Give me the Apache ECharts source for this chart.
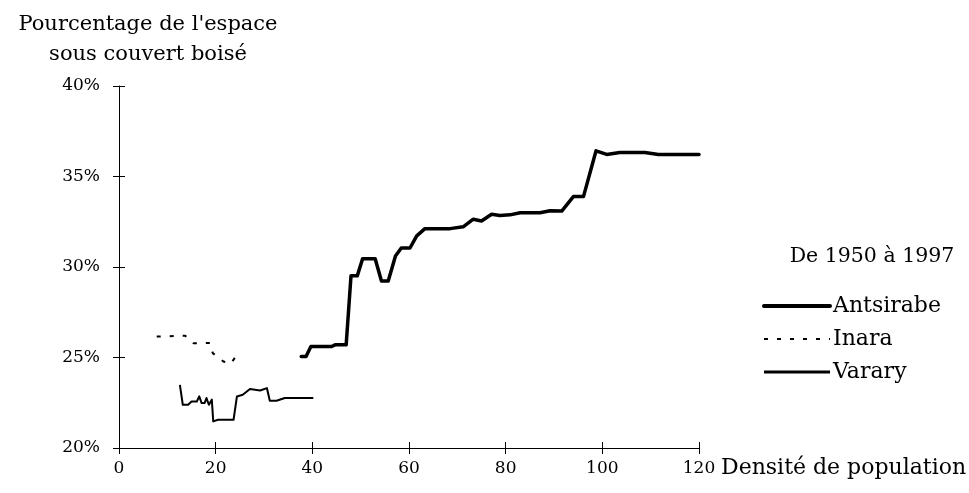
<!DOCTYPE html>
<html><head><meta charset="utf-8">
<script src="https://cdn.jsdelivr.net/npm/echarts@6/dist/echarts.min.js"></script>
<style>html,body{margin:0;padding:0;background:#fff}#c{width:969px;height:493px}</style>
</head><body><div id="c"></div>
<script>
const xTicks = [0, 20, 40, 60, 80, 100, 120];
const yTickLabels = ['20%', '25%', '30%', '35%', '40%'];

const antsirabeX = [37.7, 38.7, 39.7, 44.0, 44.7, 47.0, 48.0, 49.3, 50.4, 53.0, 54.3, 55.7, 57.2, 58.4, 60.2, 61.6, 63.3, 68.5, 71.2, 73.3, 75.0, 77.1, 78.8, 80.9, 83.0, 87.1, 89.2, 91.6, 94.0, 96.1, 98.7, 100.9, 103.6, 108.8, 111.6, 120];
const antsirabeY = [25.06, 25.06, 25.61, 25.61, 25.70, 25.70, 29.51, 29.51, 30.46, 30.46, 29.23, 29.23, 30.61, 31.05, 31.05, 31.72, 32.12, 32.12, 32.22, 32.64, 32.54, 32.91, 32.85, 32.88, 33.0, 33.0, 33.11, 33.09, 33.89, 33.89, 36.42, 36.22, 36.33, 36.33, 36.22, 36.22];

const inaraX = [7.8, 13.7, 15.4, 17.4, 18.8, 19.4, 21.6, 23.1, 24.4, 25.0];
const inaraY = [26.16, 26.2, 25.79, 25.8, 25.8, 25.24, 24.78, 24.65, 25.15, 25.15];

const vararyX = [12.6, 13.2, 14.3, 15.0, 16.1, 16.6, 17.1, 17.7, 18.1, 18.6, 19.2, 19.5, 20.5, 21.6, 23.7, 24.4, 25.6, 27.1, 29.2, 30.6, 31.2, 32.6, 34.3, 40.2];
const vararyY = [23.49, 22.39, 22.39, 22.57, 22.57, 22.85, 22.48, 22.48, 22.76, 22.39, 22.67, 21.47, 21.56, 21.56, 21.56, 22.85, 22.94, 23.26, 23.18, 23.31, 22.61, 22.61, 22.76, 22.76];

const FONT = 'DejaVu Serif';
const zip = (xs, ys) => xs.map((x, i) => [x, ys[i]]);

const chart = echarts.init(document.getElementById('c'), null, {renderer: 'canvas'});
const axisLineStyle = {color: '#000', width: 1};
const hidden = {opacity: 0};

chart.setOption({
  animation: false,
  backgroundColor: '#fff',
  textStyle: {fontFamily: FONT, color: '#000'},
  title: [
    {text: "Pourcentage de l'espace\nsous couvert boisé", left: 143, top: 5, textAlign: 'center',
     textStyle: {fontFamily: FONT, fontSize: 21, fontWeight: 'normal', color: '#000', lineHeight: 30}},
    {text: 'De 1950 à 1997', left: 867, top: 241, textAlign: 'center',
     textStyle: {fontFamily: FONT, fontSize: 20.5, fontWeight: 'normal', color: '#000'}},
    {text: 'Densité de population', left: 716, top: 452,
     textStyle: {fontFamily: FONT, fontSize: 22, fontWeight: 'normal', color: '#000'}}
  ],
  legend: {
    orient: 'vertical', left: 757, top: 290, itemWidth: 66, itemHeight: 14, itemGap: 11,
    itemStyle: hidden,
    textStyle: {fontFamily: FONT, fontSize: 22, color: '#000', padding: [0, 0, 0, -2]},
    data: [
      {name: 'Antsirabe', itemStyle: hidden, lineStyle: {width: 4, color: '#000'}},
      {name: 'Inara', itemStyle: hidden, lineStyle: {width: 2, color: '#000', type: [4, 9]}},
      {name: 'Varary', itemStyle: hidden, lineStyle: {width: 3, color: '#000'}}
    ]
  },
  grid: {left: 119, right: 270, top: 86, bottom: 45},
  xAxis: [
    {type: 'value', min: 0, max: 120, interval: 20, position: 'bottom',
     axisLine: {show: true, lineStyle: axisLineStyle},
     axisTick: {show: true, length: 6, inside: false, lineStyle: axisLineStyle},
     axisLabel: {margin: 12, fontFamily: FONT, fontSize: 17, color: '#000',
       formatter: v => xTicks.includes(v) ? String(v) : ''},
     splitLine: {show: false}},
    {type: 'value', min: 0, max: 120, interval: 20, position: 'bottom', offset: 0,
     axisLine: {show: false},
     axisTick: {show: true, length: 6, inside: true, lineStyle: axisLineStyle},
     axisLabel: {show: false}, splitLine: {show: false}}
  ],
  yAxis: [
    {type: 'value', min: 20, max: 40, interval: 5, position: 'left',
     axisLine: {show: true, lineStyle: axisLineStyle},
     axisTick: {show: true, length: 6, inside: false, lineStyle: axisLineStyle},
     axisLabel: {margin: 19, fontFamily: FONT, fontSize: 17, color: '#000',
       formatter: v => yTickLabels[Math.round((v - 20) / 5)] || ''},
     splitLine: {show: false}},
    {type: 'value', min: 20, max: 40, interval: 5, position: 'left', offset: 0,
     axisLine: {show: false},
     axisTick: {show: true, length: 6, inside: true, lineStyle: axisLineStyle},
     axisLabel: {show: false}, splitLine: {show: false}}
  ],
  series: [
    {name: 'Antsirabe', type: 'line', data: zip(antsirabeX, antsirabeY), showSymbol: false, symbol: 'none',
     lineStyle: {color: '#000', width: 3.5, cap: 'round', join: 'round'}, itemStyle: {color: '#000'}},
    {name: 'Inara', type: 'line', data: zip(inaraX, inaraY), showSymbol: false, symbol: 'none',
     lineStyle: {color: '#000', width: 2, type: [4, 9]}, itemStyle: {color: '#000'}},
    {name: 'Varary', type: 'line', data: zip(vararyX, vararyY), showSymbol: false, symbol: 'none',
     lineStyle: {color: '#000', width: 2, join: 'round'}, itemStyle: {color: '#000'}}
  ]
});
</script></body></html>
